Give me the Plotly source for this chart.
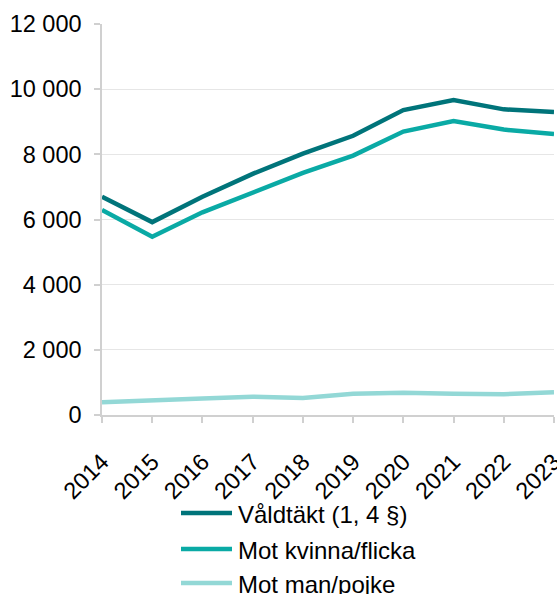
import plotly.graph_objects as go

years = [2014, 2015, 2016, 2017, 2018, 2019, 2020, 2021, 2022, 2023]
valdtakt = [6700, 5920, 6700, 7400, 8020, 8570, 9360, 9670, 9380, 9300]
kvinna = [6290, 5470, 6220, 6830, 7430, 7960, 8700, 9020, 8760, 8620]
man = [390, 460, 510, 560, 520, 650, 680, 650, 640, 700]

names = ["Våldtäkt (1, 4 §)", "Mot kvinna/flicka", "Mot man/pojke"]
colors = ["#00747A", "#0AAAA5", "#93D8D6"]
series = [valdtakt, kvinna, man]

y_ticks = [0, 2000, 4000, 6000, 8000, 10000, 12000]
y_tick_labels = ["0", "2 000", "4 000", "6 000", "8 000", "10 000", "12 000"]

FONT = "Liberation Sans, Arial, sans-serif"
FS = 24
W, H = 557, 594
L, R, T, B = 102, 3, 24, 179

fig = go.Figure()
for name, col, vals in zip(names, colors, series):
    fig.add_trace(go.Scatter(x=years, y=vals, mode="lines", name=name,
                             line=dict(color=col, width=4.5), showlegend=False,
                             cliponaxis=False, hoverinfo="skip"))

# custom legend
plot_w = W - L - R
plot_h = H - T - B
def px2x(px):
    return (px - L) / plot_w
def py2y(py):
    return (H - B - py) / plot_h

legend_rows = [513, 549, 583]
for name, col, ry in zip(names, colors, legend_rows):
    fig.add_shape(type="line", xref="paper", yref="paper",
                  x0=px2x(181), x1=px2x(232), y0=py2y(ry), y1=py2y(ry),
                  line=dict(color=col, width=4.5))
    fig.add_annotation(text=name, xref="paper", yref="paper",
                       x=px2x(236), y=py2y(ry + 1), xanchor="left", yanchor="middle",
                       showarrow=False, font=dict(family=FONT, size=FS, color="#000"))

fig.update_layout(
    width=W, height=H,
    margin=dict(l=L, r=R, t=T, b=B),
    plot_bgcolor="white", paper_bgcolor="white",
    font=dict(family=FONT, size=FS, color="#000"),
    showlegend=False,
)
fig.update_xaxes(
    range=[2014, 2023], tickmode="array", tickvals=years,
    ticktext=[str(y) for y in years], tickangle=-45, automargin=False,
    ticklabeloverflow="allow", ticklabelstandoff=16,
    showgrid=False, showline=True, linecolor="#D0D0D0", linewidth=1.5,
    ticks="outside", ticklen=6, tickcolor="#D0D0D0", tickwidth=1.5,
    zeroline=False, tickfont=dict(family=FONT, size=23.5, color="#000"),
)
fig.update_yaxes(
    range=[0, 12000], tickmode="array", tickvals=y_ticks, ticktext=y_tick_labels,
    automargin=False,
    showgrid=True, gridcolor="#E6E6E6", gridwidth=1.2,
    showline=True, linecolor="#D0D0D0", linewidth=1.5,
    ticks="outside", ticklen=6, tickcolor="#D0D0D0", tickwidth=1.5,
    zeroline=False, tickfont=dict(family=FONT, size=23.5, color="#000"),
    ticklabelstandoff=8,
)

fig.write_html(
    "out.html",
    config={"displayModeBar": False},
    post_script="document.body.style.margin='0';document.body.style.overflow='hidden';",
)
